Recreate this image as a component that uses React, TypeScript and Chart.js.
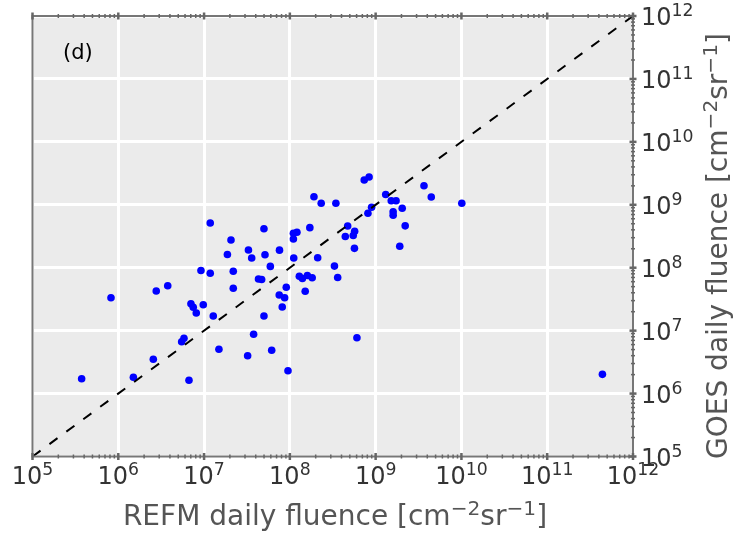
import { useEffect, useRef } from "react";
import { Chart, registerables } from "chart.js";

Chart.register(...registerables);

// Daily electron fluence [cm^-2 sr^-1]: REFM (x) against GOES (y), one entry per day
const refmFluence = [
  3.74e5, 8.22e5, 1.5e6, 2.56e6, 2.77e6, 3.77e6, 5.48e6, 5.83e6, 6.67e6, 7.03e6,
  7.48e6, 8.11e6, 9.2e6, 9.79e6, 1.18e7, 1.18e7, 1.28e7, 1.49e7, 1.87e7, 2.06e7,
  2.19e7, 2.19e7, 3.22e7, 3.29e7, 3.59e7, 3.78e7, 4.31e7, 4.69e7, 4.99e7, 4.99e7,
  5.13e7, 5.92e7, 6.14e7, 7.57e7, 7.52e7, 8.15e7, 8.69e7, 9.08e7, 9.51e7, 1.1e8,
  1.1e8, 1.11e8, 1.21e8, 1.29e8, 1.4e8, 1.51e8, 1.6e8, 1.71e8, 1.82e8, 1.91e8,
  2.11e8, 2.32e8, 3.31e8, 3.44e8, 3.61e8, 4.43e8, 4.72e8, 5.48e8, 5.69e8, 5.66e8,
  6.05e8, 7.36e8, 8.39e8, 8.13e8, 8.97e8, 1.31e9, 1.52e9, 1.73e9, 1.6e9, 1.6e9,
  2.04e9, 2.21e9, 1.91e9, 3.66e9, 4.45e9, 1.01e10, 4.4e11,
];

const goesFluence = [
  1.72e6, 3.33e7, 1.82e6, 3.51e6, 4.27e7, 5.18e7, 6.67e6, 7.55e6, 1.63e6, 2.68e7,
  2.35e7, 1.91e7, 9.04e7, 2.58e7, 5.13e8, 8.18e7, 1.71e7, 5.05e6, 1.62e8, 2.75e8,
  8.77e7, 4.71e7, 4.0e6, 1.91e8, 1.43e8, 8.75e6, 6.62e7, 6.5e7, 4.17e8, 1.71e7,
  1.61e8, 1.05e8, 4.88e6, 1.9e8, 3.68e7, 2.38e7, 3.33e7, 4.89e7, 2.31e6, 3.52e8,
  2.86e8, 1.43e8, 3.66e8, 7.31e7, 6.75e7, 4.22e7, 7.52e7, 4.33e8, 6.93e7, 1.34e9,
  1.44e8, 1.06e9, 1.06e8, 1.06e9, 6.98e7, 3.13e8, 4.6e8, 3.25e8, 3.8e8, 2.03e8,
  7.73e6, 2.48e9, 2.76e9, 7.33e8, 9.12e8, 1.46e9, 1.16e9, 1.16e9, 7.76e8, 6.81e8,
  8.79e8, 4.63e8, 2.19e8, 2.01e9, 1.33e9, 1.06e9, 2.02e6,
];

// Axis range (both axes) and decade tick exponents
const fluenceMin = 1e5;
const fluenceMax = 1e12;
const decadeExponents = [5, 6, 7, 8, 9, 10, 11, 12];
const minorMultipliers = [2, 3, 4, 5, 6, 7, 8, 9];

const panelLabel = "(d)";

type Seg = { text: string; sup?: boolean };

const xTitle: Seg[] = [
  { text: "REFM daily fluence [cm" },
  { text: "\u22122", sup: true },
  { text: "sr" },
  { text: "\u22121", sup: true },
  { text: "]" },
];

const yTitle: Seg[] = [
  { text: "GOES daily fluence [cm" },
  { text: "\u22122", sup: true },
  { text: "sr" },
  { text: "\u22121", sup: true },
  { text: "]" },
];

const WIDTH = 733;
const HEIGHT = 539;
const FONT = "'DejaVu Sans', 'Liberation Sans', sans-serif";
const TICK_SIZE = 24;
const TITLE_SIZE = 28;
const SUP_SCALE = 0.72;
const SUP_RISE = 0.36;

function segFont(size: number, sup?: boolean) {
  return `${sup ? size * SUP_SCALE : size}px ${FONT}`;
}

function segsWidth(ctx: CanvasRenderingContext2D, segs: Seg[], size: number) {
  let w = 0;
  for (const s of segs) {
    ctx.font = segFont(size, s.sup);
    w += ctx.measureText(s.text).width;
  }
  return w;
}

function drawSegs(ctx: CanvasRenderingContext2D, segs: Seg[], x: number, baseline: number, size: number) {
  let cx = x;
  for (const s of segs) {
    ctx.font = segFont(size, s.sup);
    ctx.fillText(s.text, cx, s.sup ? baseline - size * SUP_RISE : baseline);
    cx += ctx.measureText(s.text).width;
  }
}

function powerLabel(e: number): Seg[] {
  return [{ text: "10" }, { text: String(e), sup: true }];
}

const panelDecor = {
  id: "panelDecor",
  beforeDraw(chart: any) {
    const { ctx, chartArea: a } = chart;
    ctx.save();
    ctx.fillStyle = "#ffffff";
    ctx.fillRect(0, 0, chart.width, chart.height);
    ctx.fillStyle = "#ebebeb";
    ctx.fillRect(a.left, a.top, a.right - a.left, a.bottom - a.top);
    ctx.restore();
  },
  afterDraw(chart: any) {
    const { ctx, chartArea: a } = chart;
    const xs = chart.scales.x;
    const ys = chart.scales.y;
    ctx.save();

    // frame
    ctx.strokeStyle = "#777777";
    ctx.lineWidth = 2;
    ctx.strokeRect(a.left, a.top, a.right - a.left, a.bottom - a.top);

    // tick marks on top, bottom and right spines
    ctx.strokeStyle = "#666666";
    const mark = (x1: number, y1: number, x2: number, y2: number, w: number) => {
      ctx.lineWidth = w;
      ctx.beginPath();
      ctx.moveTo(x1, y1);
      ctx.lineTo(x2, y2);
      ctx.stroke();
    };
    for (const e of decadeExponents) {
      const px = xs.getPixelForValue(10 ** e);
      const py = ys.getPixelForValue(10 ** e);
      mark(px, a.bottom - 3.5, px, a.bottom + 3.5, 2.5);
      mark(px, a.top - 3.5, px, a.top + 3.5, 2.5);
      mark(a.right - 3.5, py, a.right + 3.5, py, 2.5);
      if (e < 12) {
        for (const k of minorMultipliers) {
          const mx = xs.getPixelForValue(k * 10 ** e);
          const my = ys.getPixelForValue(k * 10 ** e);
          mark(mx, a.bottom - 2, mx, a.bottom + 2, 1.5);
          mark(mx, a.top - 2, mx, a.top + 2, 1.5);
          mark(a.right - 2, my, a.right + 2, my, 1.5);
        }
      }
    }

    // tick labels
    ctx.fillStyle = "#333333";
    ctx.textBaseline = "alphabetic";
    ctx.textAlign = "left";
    for (const e of decadeExponents) {
      const segs = powerLabel(e);
      const w = segsWidth(ctx, segs, TICK_SIZE);
      const px = xs.getPixelForValue(10 ** e);
      drawSegs(ctx, segs, px - w / 2, 484, TICK_SIZE);
      const py = ys.getPixelForValue(10 ** e);
      drawSegs(ctx, segs, 641, py + 9, TICK_SIZE);
    }

    // axis titles
    ctx.fillStyle = "#555555";
    const xw = segsWidth(ctx, xTitle, TITLE_SIZE);
    drawSegs(ctx, xTitle, 335 - xw / 2, 525, TITLE_SIZE);
    const yw = segsWidth(ctx, yTitle, TITLE_SIZE);
    ctx.save();
    ctx.translate(727, 246);
    ctx.rotate(-Math.PI / 2);
    drawSegs(ctx, yTitle, -yw / 2, 0, TITLE_SIZE);
    ctx.restore();

    // panel label
    ctx.fillStyle = "#000000";
    ctx.font = `21px ${FONT}`;
    ctx.fillText(panelLabel, 63, 59);

    ctx.restore();
  },
};

export default function App() {
  const canvasRef = useRef<HTMLCanvasElement | null>(null);

  useEffect(() => {
    document.body.style.margin = "0";
    const canvas = canvasRef.current;
    if (!canvas) return;

    const points = refmFluence.map((x, i) => ({ x, y: goesFluence[i] }));
    const decadeTicks = (scale: any) => {
      scale.ticks = decadeExponents.map((e) => ({ value: 10 ** e }));
    };

    const chart = new Chart(canvas, {
      type: "scatter",
      data: {
        datasets: [
          {
            type: "line",
            label: "1:1",
            data: [
              { x: fluenceMin, y: fluenceMin },
              { x: fluenceMax, y: fluenceMax },
            ],
            borderColor: "#000000",
            borderWidth: 2,
            borderDash: [10, 11],
            pointRadius: 0,
            fill: false,
            order: 0,
          } as any,
          {
            type: "scatter",
            label: "days",
            data: points,
            backgroundColor: "#0000ff",
            borderColor: "#0000ff",
            borderWidth: 0,
            pointRadius: 3.8,
            order: 1,
          },
        ],
      },
      options: {
        responsive: false,
        animation: false,
        devicePixelRatio: 1,
        layout: { padding: { left: 32.5, top: 16, right: 0, bottom: 0 } },
        plugins: {
          legend: { display: false },
          tooltip: { enabled: false },
        },
        scales: {
          x: {
            type: "logarithmic",
            position: "bottom",
            min: fluenceMin,
            max: fluenceMax,
            afterBuildTicks: decadeTicks,
            afterFit: (s: any) => {
              s.height = 82.5;
            },
            ticks: { display: false },
            grid: { color: "#ffffff", lineWidth: 3, drawTicks: false },
            border: { display: false },
          },
          y: {
            type: "logarithmic",
            position: "right",
            min: fluenceMin,
            max: fluenceMax,
            afterBuildTicks: decadeTicks,
            afterFit: (s: any) => {
              s.width = 100;
            },
            ticks: { display: false },
            grid: { color: "#ffffff", lineWidth: 3, drawTicks: false },
            border: { display: false },
          },
        },
      },
      plugins: [panelDecor],
    });

    return () => chart.destroy();
  }, []);

  return (
    <div style={{ width: WIDTH, height: HEIGHT }}>
      <canvas ref={canvasRef} width={WIDTH} height={HEIGHT} style={{ display: "block" }} />
    </div>
  );
}
